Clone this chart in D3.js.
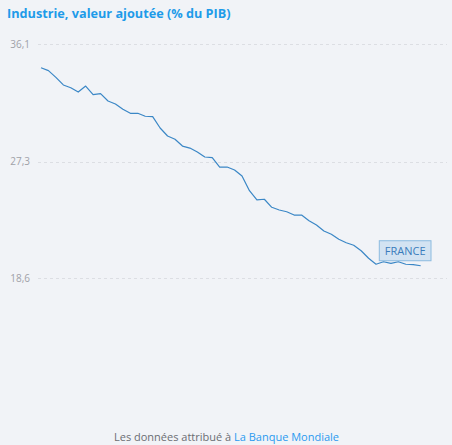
<!DOCTYPE html>
<html>
<head>
<meta charset="utf-8">
<script src="https://cdn.jsdelivr.net/npm/d3@7"></script>
<style>
  html, body { margin: 0; padding: 0; background: #f1f3f7; }
  svg { display: block; }
</style>
</head>
<body>
<svg id="chart" width="452" height="445"></svg>
<script>
const title = "Industrie, valeur ajoutée (% du PIB)";
const seriesName = "FRANCE";
const years = d3.range(1970, 2022);
const values = [
  34.35, 34.13, 33.63, 33.06, 32.85, 32.53, 32.98, 32.33, 32.41, 31.86,
  31.64, 31.24, 30.94, 30.94, 30.72, 30.69, 29.84, 29.24, 29.00, 28.49,
  28.34, 28.05, 27.67, 27.63, 26.92, 26.92, 26.70, 26.25, 25.15, 24.46,
  24.51, 23.91, 23.71, 23.58, 23.33, 23.33, 22.91, 22.59, 22.14, 21.89,
  21.52, 21.26, 21.07, 20.66, 20.10, 19.65, 19.84, 19.72, 19.84, 19.65,
  19.62, 19.54
];
const tickValues = [36.1, 27.3, 18.6];
const tickLabels = ["36,1", "27,3", "18,6"];
const footerText = "Les données attribué à ";
const footerLink = "La Banque Mondiale";

const svg = d3.select("#chart");
const font = "'Open Sans', sans-serif";

const x = d3.scaleLinear().domain([1970, 2021]).range([41, 420.7]);
const y = d3.scaleLinear().domain([18.6, 36.1]).range([278.3, 44.3]);

// title
svg.append("text")
  .attr("x", 7).attr("y", 17.5)
  .attr("font-family", font).attr("font-weight", 700).attr("font-size", 12.7)
  .attr("fill", "#1e9be9")
  .text(title);

// grid
const gAxis = svg.append("g");
tickValues.forEach((v, i) => {
  gAxis.append("line")
    .attr("x1", 38).attr("x2", 447)
    .attr("y1", Math.round(y(v)) + 0.5).attr("y2", Math.round(y(v)) + 0.5)
    .attr("stroke", "#dcdee3").attr("stroke-width", 1)
    .attr("stroke-dasharray", "3,3");
  gAxis.append("text")
    .attr("x", 30).attr("y", y(v)).attr("dy", "0.35em")
    .attr("text-anchor", "end")
    .attr("font-family", font).attr("font-size", 10)
    .attr("fill", "#9fa1a8")
    .text(tickLabels[i]);
});

// line
const line = d3.line().x((d, i) => x(years[i])).y(d => y(d));
svg.append("path")
  .datum(values)
  .attr("d", line)
  .attr("fill", "none")
  .attr("stroke", "#3b87c6")
  .attr("stroke-width", 1.2)
  .attr("stroke-linejoin", "round");

// label box
const lastX = x(years[years.length - 1]);
const lastY = y(values[values.length - 1]);
const lbl = svg.append("g");
lbl.append("rect")
  .attr("x", lastX - 41.4).attr("y", lastY - 25)
  .attr("width", 51.7).attr("height", 20)
  .attr("fill", "#cfe1f1").attr("fill-opacity", 0.9)
  .attr("stroke", "#8cbbe0").attr("stroke-width", 1);
lbl.append("text")
  .attr("x", lastX - 41.4 + 25.85).attr("y", lastY - 15).attr("dy", "0.35em")
  .attr("text-anchor", "middle")
  .attr("font-family", font).attr("font-size", 11)
  .attr("fill", "#3a7cbc")
  .text(seriesName);

// footer
const ft = svg.append("text")
  .attr("x", 226.5).attr("y", 441)
  .attr("text-anchor", "middle")
  .attr("font-family", font).attr("font-size", 11);
ft.append("tspan").attr("fill", "#6b6d73").text(footerText);
ft.append("tspan").attr("fill", "#2a9af0").text(footerLink);
</script>
</body>
</html>
